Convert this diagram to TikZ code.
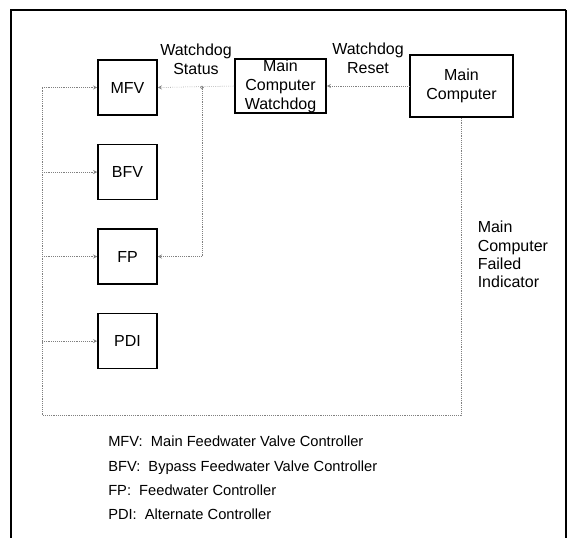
\documentclass[tikz,border=0pt]{standalone}
\usepackage{fontspec}
\setmainfont{Liberation Sans}
\usetikzlibrary{arrows, positioning}
\tikzstyle{block} = [rectangle, draw=black, line width=1.2pt, inner sep=0pt, minimum width=44.25pt, minimum height=41.25pt, text centered, align=center, font=\fontsize{12}{14.25}\selectfont]
\tikzstyle{link} = [densely dotted, gray, ->, >=stealth]
\tikzstyle{wire} = [densely dotted, gray]
\tikzstyle{lbl} = [inner sep=0pt, text=black, align=center, font=\fontsize{12}{14.25}\selectfont]

\begin{document}
\begin{tikzpicture}[x=0.75pt, y=-0.75pt, node distance=63.4pt]
\useasboundingbox (0,0) rectangle (567,538);

% Frame
\draw [line width=1.5pt] (11,538) -- (11,10) -- (566,10);
\draw [line width=1pt] (566,10) -- (566,538);

% Controllers
\node (MFV) [block] at (127.5,87.5) {MFV};
\node (BFV) [block, below of=MFV] {BFV};
\node (FP) [block, below of=BFV] {FP};
\node (PDI) [block, below of=FP] {PDI};

% Computers
\node (watchdog) [block, minimum width=68.25pt, minimum height=40.5pt] at (280.5,86) {Main\\Computer\\Watchdog};
\node (MC) [block, minimum width=77.25pt, minimum height=46.5pt] at (461.5,86) {Main\\Computer};

% Watchdog signals
\coordinate (split) at (202,0 |- MFV.east);
\draw [link] (MC.west) -- node[lbl, above=9pt] {Watchdog\\Reset} (watchdog.east);
\draw [link] (watchdog.west) -- node[lbl, above=9pt] {Watchdog\\Status} (MFV.east);
\draw [link] (split) |- (FP.east);
\draw [gray] (split) circle (1.5);

% Failed indicator loop
\coordinate (loopright) at (MC.south |- 0,415);
\coordinate (loopleft) at (42,415);
\draw [wire] (MC.south) -- node[lbl, align=left, pos=0.46, right=12pt, font=\fontsize{12}{13.75}\selectfont] {Main\\Computer\\Failed\\Indicator} (loopright) -- (loopleft) -- (loopleft |- MFV);
\draw [link] (loopleft |- MFV) -- (MFV.west);
\foreach \n in {BFV, FP, PDI}
  \draw [link] (loopleft |- \n) -- (\n.west);

% Legend
\node (legend) [inner sep=0pt, anchor=north west, align=left, font=\fontsize{11}{18.2}\selectfont] at (108,436) {
MFV:\ \ Main Feedwater Valve Controller\\
BFV:\ \ Bypass Feedwater Valve Controller\\
FP:\ \ Feedwater Controller\\
PDI:\ \ Alternate Controller
};

\end{tikzpicture}
\end{document}
